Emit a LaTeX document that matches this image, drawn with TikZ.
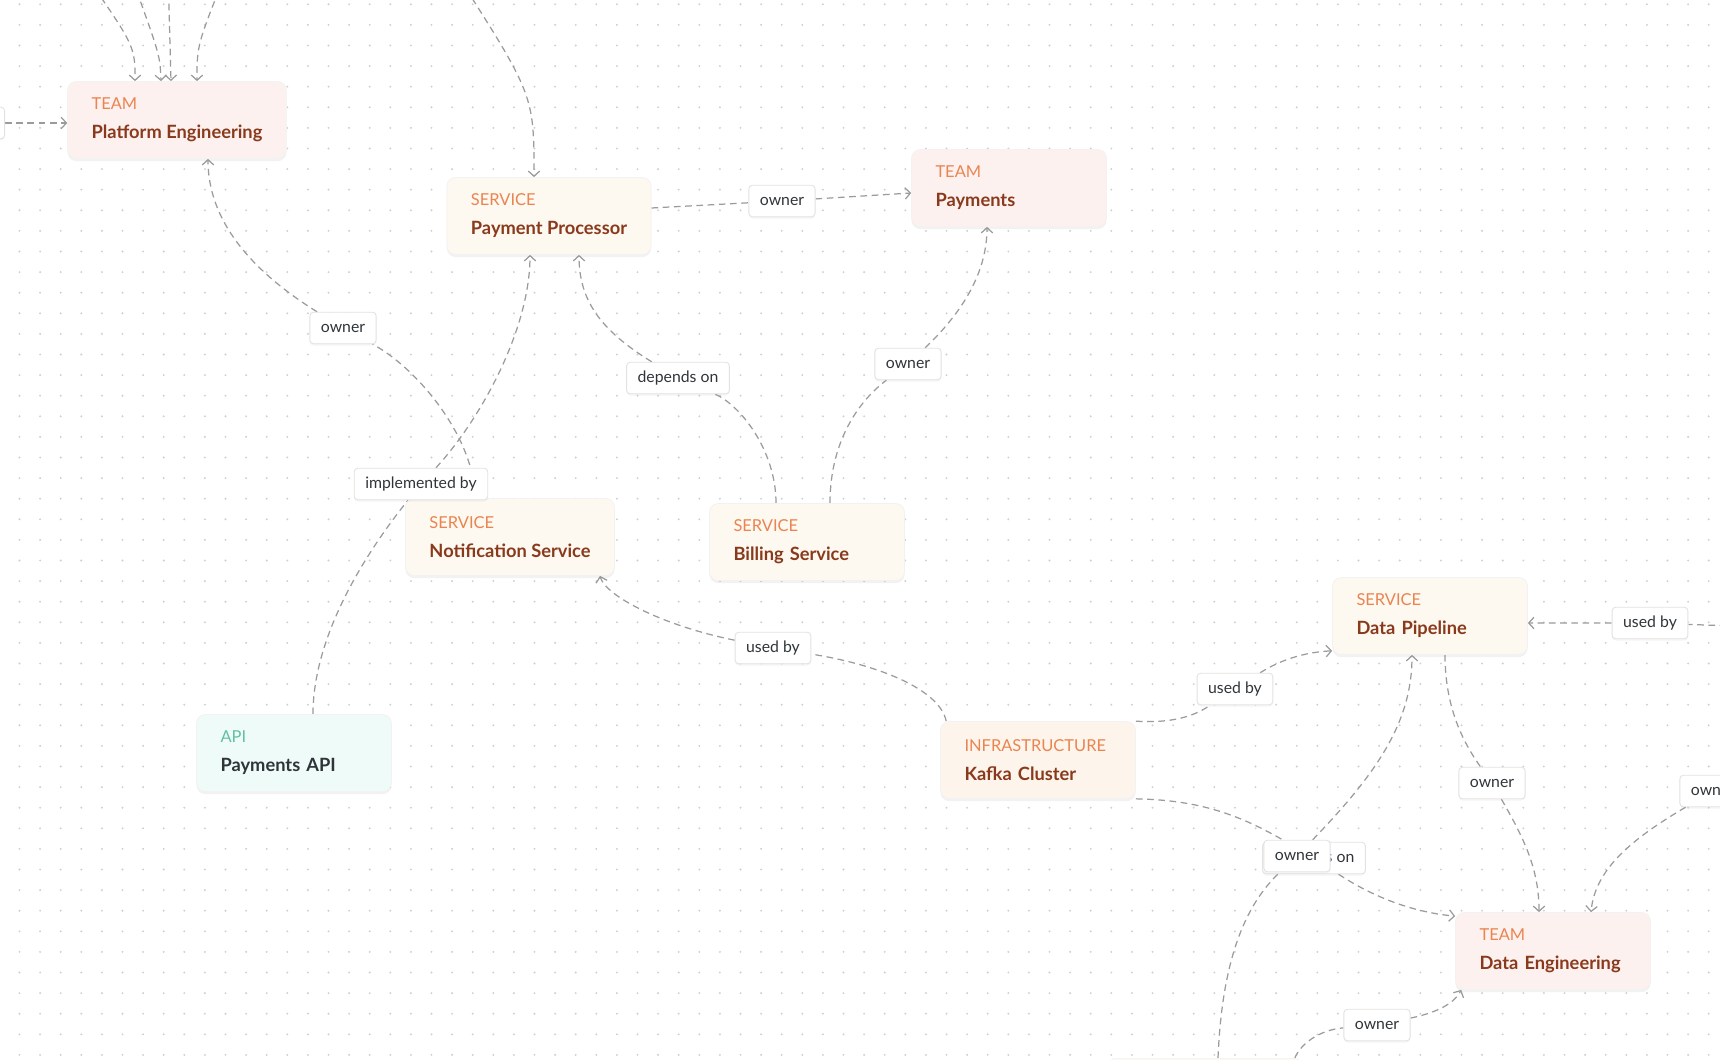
\documentclass[tikz,border=0pt]{standalone}
\usepackage{fontspec}
\setmainfont{Lato}
\newfontfamily\kindfont[Scale=0.9,Color=EA8450]{Lato}
\newfontfamily\apikindfont[Scale=0.9,Color=62C0A2]{Lato}
\usetikzlibrary{arrows.meta,calc,shadows}
\definecolor{teamfill}{HTML}{FCF1EF}
\definecolor{svcfill}{HTML}{FDF8F0}
\definecolor{infrafill}{HTML}{FDF5EC}
\definecolor{apifill}{HTML}{EFFBF8}
\definecolor{namebrown}{HTML}{8A3A1C}
\definecolor{apiname}{HTML}{2E3438}
\definecolor{linkgray}{HTML}{9B9B9B}
\definecolor{tagborder}{HTML}{E2E2E2}
\definecolor{tagtext}{HTML}{30353A}
\definecolor{dotgray}{HTML}{CFCFCF}
\pgfdeclarelayer{grid}
\pgfdeclarelayer{links}
\pgfsetlayers{grid,links,main}

\begin{document}
\begin{tikzpicture}[
			x=0.02cm, y=-0.02cm,
			card/.style={
				rounded corners=5pt,
				draw=black!5,
				line width=0.4pt,
				align=left,
				text width=2.94cm,
				minimum width=3.9cm,
				inner xsep=0.48cm,
				minimum height=1.54cm,
				text=namebrown,
				font=\fontsize{10.4}{16.5}\selectfont,
				drop shadow={shadow xshift=0pt,shadow yshift=-1.5pt,opacity=0.10}
			},
			tag/.style={
				fill=white,
				draw=tagborder,
				line width=0.5pt,
				rounded corners=2pt,
				inner xsep=0.22cm,
				inner ysep=0pt,
				minimum height=0.63cm,
				text=tagtext,
				font=\fontsize{9}{11}\selectfont,
				drop shadow={shadow xshift=0pt,shadow yshift=-1pt,opacity=0.08}
			},
			link/.style={
				draw=linkgray,
				line width=0.7pt,
				dash pattern=on 3.8pt off 2.6pt,
				-{Straight Barb[length=3pt,width=6.5pt]}
			}
			]
			
			\useasboundingbox (0,0) rectangle (1720,1060);
			
			% Dotted canvas
			\begin{pgfonlayer}{grid}
				\fill[white] (0,0) rectangle (1720,1060);
				\foreach \i in {0,...,83}
				\foreach \j in {0,...,51}
				\fill[dotgray] (19.5+20.6*\i,4.3+20.6*\j) circle (0.6pt);
			\end{pgfonlayer}
			
			% Teams
			\node[card,fill=teamfill,text width={}] (pe) at (177,120) {%
				{\kindfont TEAM}\\
				{\bfseries Platform Engineering}
			};
			\node[card,fill=teamfill] (pay) at (1009,188) {%
				{\kindfont TEAM}\\
				{\bfseries Payments}
			};
			\node[card,fill=teamfill] (deng) at (1553,951) {%
				{\kindfont TEAM}\\
				{\bfseries Data Engineering}
			};
			
			% Services
			\node[card,fill=svcfill,text width={}] (pp) at (549,216) {%
				{\kindfont SERVICE}\\
				{\bfseries Payment Processor}
			};
			\node[card,fill=svcfill,text width={}] (notif) at (510,537) {%
				{\kindfont SERVICE}\\
				{\bfseries Notification Service}
			};
			\node[card,fill=svcfill] (bill) at (807,542) {%
				{\kindfont SERVICE}\\
				{\bfseries Billing Service}
			};
			\node[card,fill=svcfill] (dpipe) at (1430,616) {%
				{\kindfont SERVICE}\\
				{\bfseries Data Pipeline}
			};
			\node[card,fill=svcfill,anchor=north] (offnode) at (1205,1058) {};
			
			% API and infrastructure
			\node[card,fill=apifill,text=apiname] (api) at (294,753) {%
				{\apikindfont API}\\
				{\bfseries Payments API}
			};
			\node[card,fill=infrafill] (kafka) at (1038,760) {%
				{\kindfont INFRASTRUCTURE}\\
				{\bfseries Kafka Cluster}
			};
			
			% Edge labels
			\node[tag,anchor=east] (ownLeft) at (5,123) {owner};
			\node[tag] (ownPE) at (343,328) {owner};
			\node[tag] (ownPay) at (782,201) {owner};
			\node[tag] (depPP) at (678,378) {depends on};
			\node[tag] (ownBill) at (908,364) {owner};
			\node[tag] (impl) at (421,484) {implemented by};
			\node[tag] (useNotif) at (773,648) {used by};
			\node[tag] (useKafka) at (1235,689) {used by};
			\node[tag] (useRight) at (1650,623) {used by};
			\node[tag] (ownPipe) at (1492,783) {owner};
			\node[tag] (ownRight) at (1713,791) {owner};
			\node[tag] (depKafka) at (1314,858) {depends on};
			\node[tag] (ownMid) at (1297,856) {owner};
			\node[tag] (ownLow) at (1377,1025) {owner};
			
			% Ends outside the frame
			\coordinate (inA) at (82,-30);
			\coordinate (inB) at (129,-30);
			\coordinate (inC) at (168,-30);
			\coordinate (inD) at (227,-30);
			\coordinate (inPP) at (454,-30);
			\coordinate (inRight) at (1760,627);
			\coordinate (farRight) at (1800,791);
			
			\begin{pgfonlayer}{links}
				% Into Platform Engineering
				\draw[link] (inA) .. controls (135,46) .. ($(pe.north)+(-42,0)$);
				\draw[link] (inB) .. controls (160,55) .. ($(pe.north)+(-16,0)$);
				\draw[link] (inC) -- ($(pe.north)+(-6,0)$);
				\draw[link] (inD) .. controls (197,45) .. ($(pe.north)+(20,0)$);
				\draw[link] (ownLeft) -- (ownLeft -| pe.west);
				\draw[link] ($(notif.north)+(-35,0)$) .. controls (475,440) and (420,370) .. (ownPE)
				.. controls (250,270) and (208,220) .. ($(pe.south)+(31,0)$);
				
				% Around Payment Processor
				\draw[link] (inPP) .. controls (534,95) .. ($(pp.north)+(-15,0)$);
				\draw[link] ($(pp.east)+(0,-8)$) -- (ownPay) -- ($(pay.west)+(0,5)$);
				\draw[link] ($(api.north)+(19,0)$) .. controls (313,640) and (360,560) .. (impl)
				.. controls (480,420) and (530,330) .. ($(pp.south)+(-19,0)$);
				\draw[link] ($(bill.north)+(-31,0)$) .. controls (776,450) and (740,405) .. (depPP)
				.. controls (600,330) and (579,300) .. ($(pp.south)+(30,0)$);
				\draw[link] ($(bill.north)+(23,0)$) .. controls (830,440) and (860,400) .. (ownBill)
				.. controls (965,310) and (987,270) .. ($(pay.south)+(-22,0)$);
				
				% Kafka
				\draw[link] ($(kafka.north west)+(6,0)$) .. controls (940,690) and (880,665) .. (useNotif)
				.. controls (660,625) and (605,595) .. ($(notif.south)+(90,0)$);
				\draw[link] (kafka.north east) .. controls (1180,724) and (1200,712) .. (useKafka)
				.. controls (1280,660) and (1305,652) .. ($(dpipe.south west)+(0,-4)$);
				\draw[link] (kafka.south east) .. controls (1200,800) and (1240,815) .. (depKafka)
				.. controls (1370,895) and (1410,912) .. ($(deng.north west)+(0,4)$);
				
				% Data Pipeline and Data Engineering
				\draw[link] (inRight) -- (useRight) -- (useRight -| dpipe.east);
				\draw[link] ($(dpipe.south)+(15,0)$) .. controls (1445,710) and (1465,745) .. (ownPipe)
				.. controls (1525,840) and (1539,870) .. ($(deng.north)+(-14,0)$);
				\draw[link] (farRight) -- (ownRight)
				.. controls (1630,840) and (1595,870) .. ($(deng.north)+(38,0)$);
				\draw[link] ($(offnode.north)+(13,0)$) .. controls (1222,960) and (1245,905) .. (ownMid)
				.. controls (1380,770) and (1412,720) .. ($(dpipe.south)+(-18,0)$);
				\draw[link] ($(offnode.north east)+(-8,0)$) .. controls (1300,1045) and (1318,1030) .. (ownLow)
				.. controls (1440,1012) and (1455,1002) .. ($(deng.south west)+(6,0)$);
			\end{pgfonlayer}
			
		\end{tikzpicture}
\end{document}
